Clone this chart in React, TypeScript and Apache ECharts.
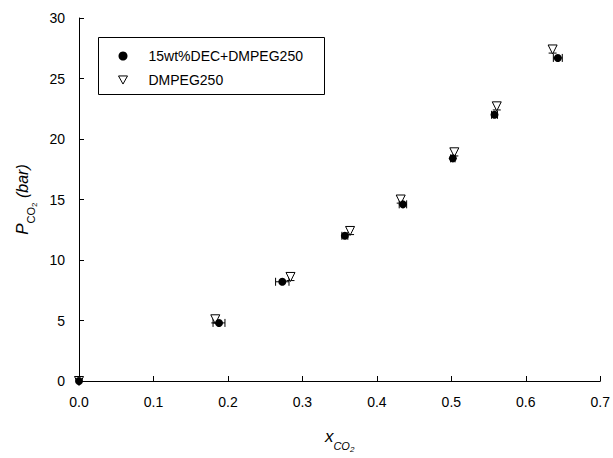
import React, { useEffect, useRef } from "react";
import * as echarts from "echarts";

const circleX = [0, 0.188, 0.273, 0.357, 0.435, 0.502, 0.558, 0.643];
const circleY = [0, 4.8, 8.2, 12.0, 14.6, 18.4, 22.0, 26.7];
const circleXErr = [0, 0.008, 0.009, 0.004, 0.005, 0.003, 0.004, 0.006];

const triX = [0, 0.183, 0.284, 0.364, 0.432, 0.504, 0.561, 0.636];
const triY = [0, 5.1, 8.6, 12.4, 15.0, 18.9, 22.7, 27.4];
const triYErr = [0, 0.3, 0.3, 0.3, 0.3, 0.3, 0.3, 0.3];

const xTicks = ["0.0", "0.1", "0.2", "0.3", "0.4", "0.5", "0.6", "0.7"];

const seriesNames = ["15wt%DEC+DMPEG250", "DMPEG250"];

const FONT = "Liberation Sans, Arial, sans-serif";

export default function App() {
  const ref = useRef<HTMLDivElement>(null);
  useEffect(() => {
    if (!ref.current) return;
    const chart = echarts.init(ref.current, undefined, { renderer: "svg" });
    const hBar = (params: any, api: any) => {
      const x = api.value(0), y = api.value(1), e = api.value(2);
      if (!e) return null;
      const a = api.coord([x - e, y]);
      const b = api.coord([x + e, y]);
      const st = { stroke: "#000", lineWidth: 1 };
      return {
        type: "group",
        children: [
          { type: "line", shape: { x1: a[0], y1: a[1], x2: b[0], y2: b[1] }, style: st },
          { type: "line", shape: { x1: a[0], y1: a[1] - 4, x2: a[0], y2: a[1] + 4 }, style: st },
          { type: "line", shape: { x1: b[0], y1: b[1] - 4, x2: b[0], y2: b[1] + 4 }, style: st },
        ],
      };
    };
    const vBar = (params: any, api: any) => {
      const x = api.value(0), y = api.value(1), e = api.value(2);
      if (!e) return null;
      const a = api.coord([x, y - e]);
      const b = api.coord([x, y + e]);
      const st = { stroke: "#000", lineWidth: 1 };
      return {
        type: "group",
        children: [
          { type: "line", shape: { x1: a[0], y1: a[1], x2: b[0], y2: b[1] }, style: st },
          { type: "line", shape: { x1: a[0] - 4, y1: a[1], x2: a[0] + 4, y2: a[1] }, style: st },
          { type: "line", shape: { x1: b[0] - 4, y1: b[1], x2: b[0] + 4, y2: b[1] }, style: st },
        ],
      };
    };
    chart.setOption({
      animation: false,
      backgroundColor: "#fff",
      textStyle: { fontFamily: FONT, color: "#000" },
      grid: { left: 79, right: 12, top: 18, bottom: 65 },
      legend: {
        data: [
          { name: seriesNames[0], icon: "circle" },
          { name: seriesNames[1], icon: "path://M0,0 L10,0 L5,9 Z", itemStyle: { color: "#fff", borderColor: "#000", borderWidth: 1 } },
        ],
        orient: "vertical",
        left: 118,
        top: 49,
        padding: 0,
        itemWidth: 9,
        itemHeight: 9,
        itemGap: 10,
        textStyle: { fontFamily: FONT, fontSize: 14, color: "#000", padding: [0, 0, 0, 16] },
      },
      graphic: [
        {
          type: "rect",
          left: 96,
          top: 35,
          shape: { width: 226, height: 57 },
          style: { fill: "none", stroke: "#000", lineWidth: 1 },
          z: 10,
        },
      ],
      xAxis: {
        type: "value",
        min: 0,
        max: 0.7,
        interval: 0.1,
        name: "{x|x}{sub|CO}{sub2|2}",
        nameLocation: "middle",
        nameGap: 42,
        nameTextStyle: {
          rich: {
            x: { fontFamily: FONT, fontSize: 17, fontStyle: "italic", color: "#000", verticalAlign: "bottom", lineHeight: 22 },
            sub: { fontFamily: FONT, fontSize: 11, fontStyle: "italic", color: "#000", verticalAlign: "bottom", padding: [0, 0, -6, 0], lineHeight: 22 },
            sub2: { fontFamily: FONT, fontSize: 8, fontStyle: "italic", color: "#000", verticalAlign: "bottom", padding: [0, 0, -8, 0], lineHeight: 22 },
          },
        },
        axisLine: { show: true, lineStyle: { color: "#000", width: 1 } },
        axisTick: { show: true, inside: true, length: 5, lineStyle: { color: "#000" } },
        axisLabel: {
          fontFamily: FONT,
          fontSize: 14,
          color: "#000",
          margin: 14,
          formatter: (v: number) => xTicks[Math.round(v * 10)] ?? "",
        },
        splitLine: { show: false },
      },
      yAxis: {
        type: "value",
        min: 0,
        max: 30,
        interval: 5,
        name: "{p|P}{sub|CO}{sub2|2}{b| (bar)}",
        nameLocation: "middle",
        nameGap: 45,
        nameTextStyle: {
          rich: {
            p: { fontFamily: FONT, fontSize: 17, fontStyle: "italic", color: "#000", verticalAlign: "bottom", lineHeight: 22 },
            sub: { fontFamily: FONT, fontSize: 11, color: "#000", verticalAlign: "bottom", padding: [0, 0, -6, 0], lineHeight: 22 },
            sub2: { fontFamily: FONT, fontSize: 8, color: "#000", verticalAlign: "bottom", padding: [0, 0, -8, 0], lineHeight: 22 },
            b: { fontFamily: FONT, fontSize: 16, fontStyle: "italic", color: "#000", verticalAlign: "bottom", lineHeight: 22 },
          },
        },
        axisLine: { show: true, lineStyle: { color: "#000", width: 1 } },
        axisTick: { show: true, inside: true, length: 5, lineStyle: { color: "#000" } },
        axisLabel: { fontFamily: FONT, fontSize: 14, color: "#000", margin: 14 },
        splitLine: { show: false },
      },
      series: [
        {
          type: "custom",
          name: "errC",
          renderItem: hBar,
          data: circleX.map((x, i) => [x, circleY[i], circleXErr[i]]),
          z: 2,
          silent: true,
        },
        {
          type: "custom",
          name: "errT",
          renderItem: vBar,
          data: triX.map((x, i) => [x, triY[i], triYErr[i]]),
          z: 2,
          silent: true,
        },
        {
          type: "scatter",
          name: seriesNames[1],
          symbol: "triangle",
          symbolRotate: 180,
          symbolSize: 9,
          itemStyle: { color: "#fff", borderColor: "#000", borderWidth: 1, opacity: 1 },
          data: triX.map((x, i) => [x, triY[i]]),
          z: 3,
        },
        {
          type: "scatter",
          name: seriesNames[0],
          symbol: "circle",
          symbolSize: 8,
          itemStyle: { color: "#000", borderColor: "#000", borderWidth: 0, opacity: 1 },
          data: circleX.map((x, i) => [x, circleY[i]]),
          z: 4,
        },
      ],
    });
    return () => chart.dispose();
  }, []);
  return (
    <div
      ref={ref}
      style={{ position: "absolute", left: 0, top: 0, width: 613, height: 458 }}
    />
  );
}
